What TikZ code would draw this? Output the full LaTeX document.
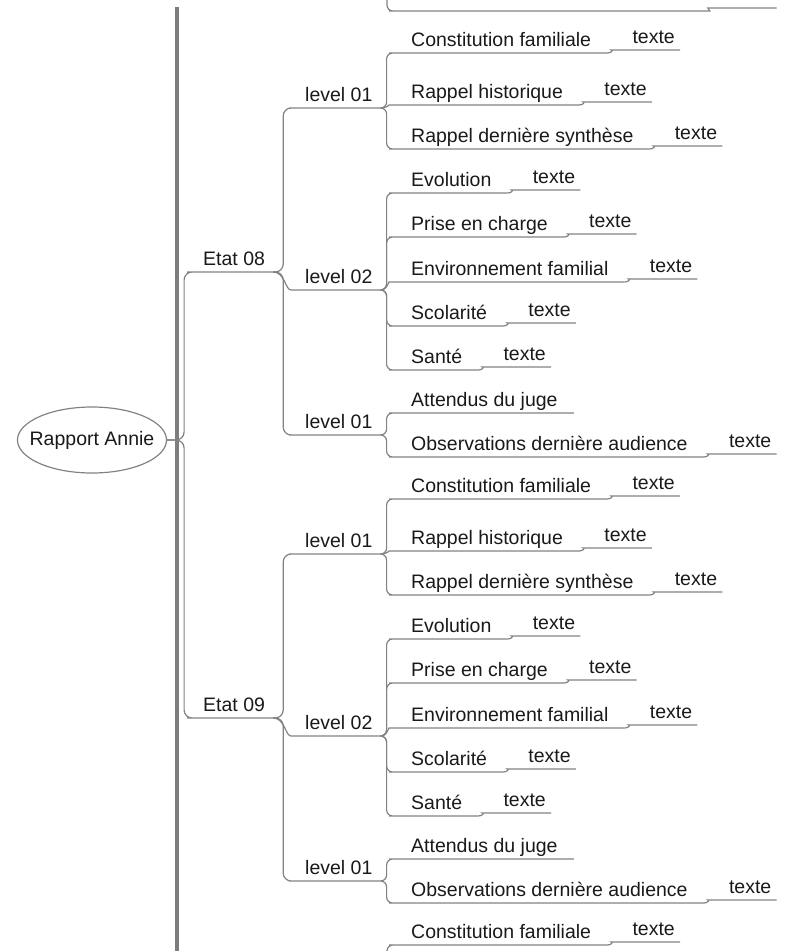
\documentclass[tikz,border=0pt]{standalone}
\usepackage{fontspec}
\setmainfont{Liberation Sans}
\usetikzlibrary{positioning, shapes.geometric}
\definecolor{linkgray}{RGB}{130,130,130}
\definecolor{railgray}{RGB}{125,125,125}
\definecolor{inkgray}{RGB}{25,25,25}
\tikzset{
  rail/.style={draw=railgray, line width=4pt},
  link/.style={draw=linkgray, line width=1.2pt, rounded corners=6pt},
  bracket/.style={to path={-- ++(#1,0) |- (\tikztotarget)}},
  bracket/.default=6,
  twist/.style={out=0, in=180},
  topic/.style={anchor=south west, inner xsep=16pt, inner ysep=0pt, text depth=6pt, text=inkgray},
  stage/.style={topic, inner xsep=8pt},
  note/.style={topic, inner xsep=5pt},
  hub/.style={ellipse, draw=linkgray, line width=1.2pt, minimum width=149pt, minimum height=66pt, inner xsep=-16pt, inner ysep=0pt, text=inkgray}
}

\begin{document}
\begin{tikzpicture}[x=1pt, y=-1pt, font=\fontsize{19.5}{23}\selectfont]
    \useasboundingbox (0,0) rectangle (787,951);
    \clip (0,0) rectangle (787,951);

    % Root and the rail of sibling links
    \draw[rail] (177,7) -- (177,960);
    \node[hub] (root) at (92,440) {Rapport Annie};

    % Etat 08 and Etat 09 have the same layout
    \foreach \e/\dy in {08/0, 09/446} {
    \begin{scope}[yshift=-\dy pt]
        \node[stage] (etat\e) at (195,272) {Etat \e};
        \node[stage] (lvla\e) at (297,108) {level 01};
        \node[stage] (lvlb\e) at (297,290) {level 02};
        \node[stage] (lvlc\e) at (297,435) {level 01};

        \draw[link, rounded corners=8pt] (root.east) to[bracket=17] (etat\e.south west) -- (etat\e.south east);
        \draw[link, rounded corners=8pt] (etat\e.south east) to[bracket=10] (lvla\e.south west) -- (lvla\e.south east);
        \draw[link] (etat\e.south east) to[twist] (lvlb\e.south west) -- (lvlb\e.south east);
        \draw[link, rounded corners=8pt] (etat\e.south east) to[bracket=10] (lvlc\e.south west) -- (lvlc\e.south east);

        % level 01
        \foreach \t/\y/\k [count=\i] in {Constitution familiale/53/bracket, Rappel historique/105/twist, Rappel dernière synthèse/149/bracket} {
            \node[topic] (a\i\e) at (395,\y) {\t};
            \draw[link] (lvla\e.south east) to[\k] (a\i\e.south west) -- (a\i\e.south east);
            \node[note, above right=3pt and 20pt of a\i\e.south east] (na\i\e) {texte};
            \draw[link] (a\i\e.south east) to[twist] ++(10,-3) -- (na\i\e.south east);
        }

        % level 02
        \foreach \t/\y/\k [count=\i] in {Evolution/193/bracket, Prise en charge/237/bracket, Environnement familial/282/twist, Scolarité/326/bracket, Santé/370/bracket} {
            \node[topic] (b\i\e) at (395,\y) {\t};
            \draw[link] (lvlb\e.south east) to[\k] (b\i\e.south west) -- (b\i\e.south east);
            \node[note, above right=3pt and 20pt of b\i\e.south east] (nb\i\e) {texte};
            \draw[link] (b\i\e.south east) to[twist] ++(10,-3) -- (nb\i\e.south east);
        }

        % level 01 (juge)
        \node[topic] (c1\e) at (395,413) {Attendus du juge};
        \node[topic] (c2\e) at (395,457) {Observations dernière audience};
        \node[note, above right=3pt and 20pt of c2\e.south east] (nc2\e) {texte};
        \draw[link] (lvlc\e.south east) to[bracket] (c1\e.south west) -- (c1\e.south east);
        \draw[link] (lvlc\e.south east) to[bracket] (c2\e.south west) -- (c2\e.south east);
        \draw[link] (c2\e.south east) to[twist] ++(10,-3) -- (nc2\e.south east);
    \end{scope}
    }

    % cut branches at the top and bottom edges
    \coordinate (prevlvl) at (381,-11);
    \draw[link] (prevlvl) to[bracket] ([yshift=446pt]c208.south west) -- ([yshift=446pt]c208.south east)
        to[twist] ++(10,-3) -- ([yshift=446pt]nc208.south east);

    \coordinate (nextlvl) at (381,1000);
    \node[topic] (anext) at (395,945) {Constitution familiale};
    \node[note, above right=3pt and 20pt of anext.south east] (nanext) {texte};
    \draw[link] (nextlvl) to[bracket] (anext.south west) -- (anext.south east);
    \draw[link] (anext.south east) to[twist] ++(10,-3) -- (nanext.south east);
\end{tikzpicture}
\end{document}
